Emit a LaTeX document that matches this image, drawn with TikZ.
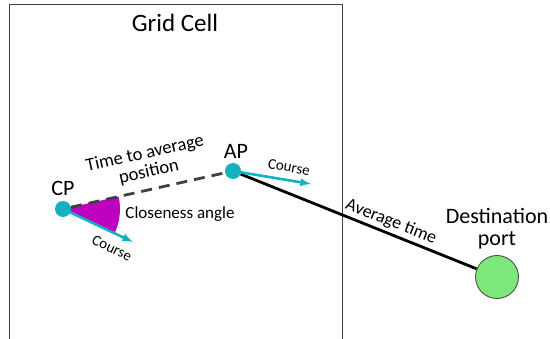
\documentclass[tikz,border=0pt]{standalone}
\usepackage{fontspec}
\setmainfont{Carlito}
\usetikzlibrary{arrows,calc}
\definecolor{posblue}{RGB}{20,178,192}
\definecolor{anglemag}{RGB}{192,0,192}
\definecolor{portgreen}{RGB}{124,232,124}
\definecolor{linegray}{RGB}{64,64,64}
\newcommand{\posrad}{16pt}
\newcommand{\fs}[1]{\fontsize{#1}{#1}\selectfont}
\tikzset{
    node style pos/.style={circle,fill=posblue,minimum size=\posrad,inner sep=0pt},
    node style port/.style={circle,draw=linegray,fill=portgreen,minimum size=43pt,inner sep=0pt,line width=0.8pt},
    arrow style course/.style={->,draw=posblue,line width=2.6pt,shorten <=-3pt},
    label style course/.style={font=\fs{15},inner sep=1pt},
}

\begin{document}
\begin{tikzpicture}[>=latex,x=1pt,y=-1pt]
\useasboundingbox (0,0) rectangle (550,339);

% grid cell
\draw [linegray,line width=1pt] (9,339) -- (9,5) -- (342,5) -- (342,339);
\node (title) at (175,23) {\fs{25}Grid Cell};

% closeness angle
\coordinate (cpc) at (63,209);
\fill [anglemag] (cpc) -- ++(-12.6:57) arc [start angle=-12.6,end angle=26,radius=57] -- cycle;

\node [node style pos] (cp) at (cpc) {};
\node [node style pos] (ap) at (233,171) {};
\node [node style port] (port) at (497,277) {};
\coordinate (cpcourse) at (133,242);
\coordinate (apcourse) at (311,184);

\draw [linegray,dashed,dash pattern=on 11pt off 7pt,line width=2.8pt] (cp) -- (ap);
\draw [black,line width=2.8pt] (ap) -- (port);
\draw [arrow style course] (cp) -- (cpcourse);
\draw [arrow style course] (ap) -- (apcourse);

\node (cplab) at (63,188) {\fs{22}CP};
\node (aplab) at (236,151) {\fs{22}AP};
\node [align=center,rotate=12.5,font=\fs{18.5}] (ttap) at (147,163) {Time to average\\position};
\node [font=\fs{17}] (angle) at (180,214) {Closeness angle};
\node [label style course,rotate=-26] (cpcl) at (112,248) {Course};
\node [label style course,rotate=-10] (apcl) at (289,167) {Course};
\node [rotate=-21.6,font=\fs{18}] (avg) at (391,222) {Average time};
\node [align=center,font=\fs{22}] (portlab) at (497,229) {Destination\\port};

\end{tikzpicture}
\end{document}
